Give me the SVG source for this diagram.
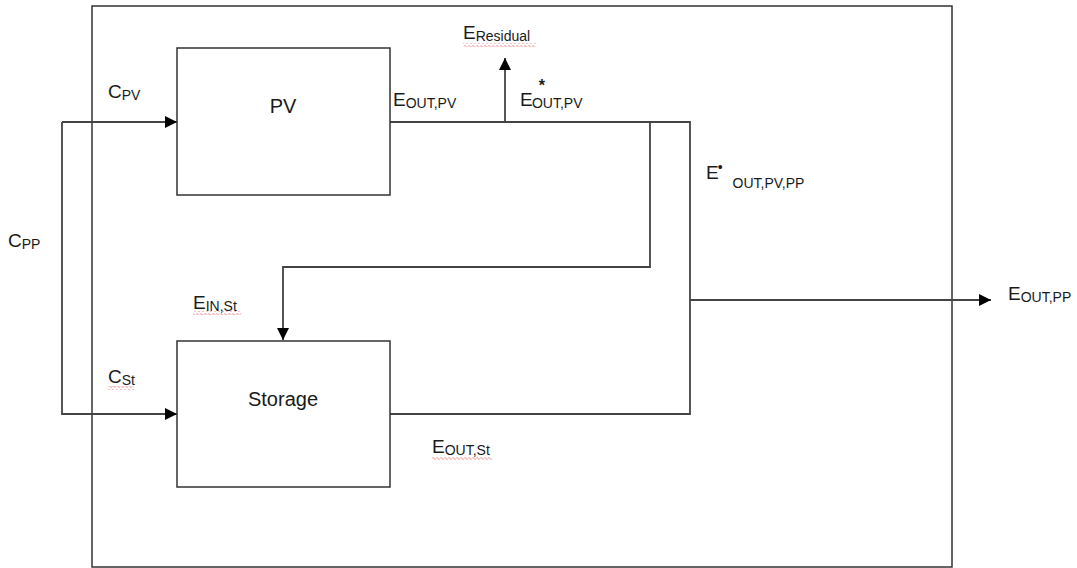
<svg xmlns="http://www.w3.org/2000/svg" width="1077" height="568" viewBox="0 0 1077 568">
<defs>
<marker id="ah" viewBox="0 0 10 10" refX="10" refY="5" markerWidth="14" markerHeight="12" markerUnits="userSpaceOnUse" orient="auto">
<path d="M0,0 L10,5 L0,10 z" fill="#000"/>
</marker>
<pattern id="wave" x="0" y="0" width="4" height="4" patternUnits="userSpaceOnUse">
<path d="M0,2.5 Q1,0.5 2,2.5 T4,2.5" fill="none" stroke="#e84040" stroke-width="0.7"/>
</pattern>
</defs>
<style>
.box{fill:#fff;stroke:#333;stroke-width:1.5}
.ln{fill:none;stroke:#444;stroke-width:1.8}
.t{font-family:"Liberation Sans",Arial,sans-serif;fill:#1a1a1a}
.big{font-size:19px}
.sub{font-size:14px}
.lbl{font-size:20px}
.sq{fill:url(#wave)}
</style>
<rect width="1077" height="568" fill="#fff"/>
<g id="frame"><rect x="92" y="6" width="860" height="561" fill="none" stroke="#333" stroke-width="1.5"/></g>
<g id="connectors">
<path class="ln" d="M62,122 L177,122" marker-end="url(#ah)"/>
<path class="ln" d="M62,122 L62,414 L177,414" marker-end="url(#ah)"/>
<path class="ln" d="M390,122 L690,122 L690,414 L390,414"/>
<path class="ln" d="M505,122 L505,58" marker-end="url(#ah)"/>
<path class="ln" d="M650,122 L650,267 L283,267 L283,340" marker-end="url(#ah)"/>
<path class="ln" d="M690,300 L991,300" marker-end="url(#ah)"/>
</g>
<g id="pv"><rect class="box" x="177" y="48" width="213" height="147"/>
<text class="t lbl" x="283" y="113" text-anchor="middle">PV</text></g>
<g id="storage"><rect class="box" x="177" y="341" width="213" height="146"/>
<text class="t lbl" x="283" y="406" text-anchor="middle">Storage</text></g>
<g id="labels">
<text class="t" x="108" y="98"><tspan class="big">C</tspan><tspan class="sub" dy="2">PV</tspan></text>
<text class="t" x="8" y="247"><tspan class="big">C</tspan><tspan class="sub" dy="2">PP</tspan></text>
<text class="t" x="393" y="106"><tspan class="big">E</tspan><tspan class="sub" dy="2">OUT,PV</tspan></text>
<text class="t" x="463" y="39"><tspan class="big">E</tspan><tspan class="sub" dy="2">Residual</tspan></text>
<rect class="sq" x="463" y="43" width="73" height="4"/>
<text class="t" x="520" y="106"><tspan class="big">E</tspan><tspan font-size="16px" font-weight="bold" dx="6" dy="-15">*</tspan><tspan class="sub" dx="-13" dy="17">OUT,PV</tspan></text>
<text class="t" x="706" y="179"><tspan class="big">E</tspan><tspan font-size="14px" dx="-1" dy="-7">•</tspan><tspan class="sub" dx="10" dy="16">OUT,PV,PP</tspan></text>
<text class="t" x="193" y="309"><tspan class="big">E</tspan><tspan class="sub" dy="2">IN,St</tspan></text>
<rect class="sq" x="193" y="311" width="48" height="4"/>
<text class="t" x="108" y="383"><tspan class="big">C</tspan><tspan class="sub" dy="2">St</tspan></text>
<rect class="sq" x="108" y="386" width="26" height="4"/>
<text class="t" x="432" y="453"><tspan class="big">E</tspan><tspan class="sub" dy="2">OUT,St</tspan></text>
<rect class="sq" x="432" y="456" width="60" height="4"/>
<text class="t" x="1008" y="300"><tspan class="big">E</tspan><tspan class="sub" dy="2">OUT,PP</tspan></text>
</g>
</svg>
